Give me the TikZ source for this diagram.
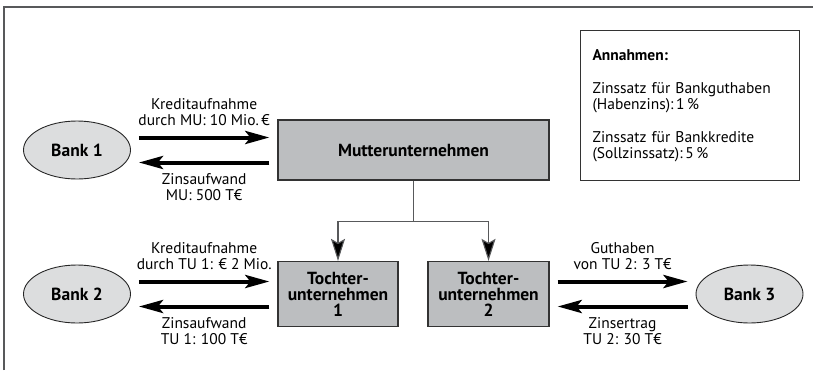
\documentclass[tikz,border=0pt]{standalone}
\usepackage{fontspec}
\setmainfont{PT Sans}
\usetikzlibrary{shapes.geometric,arrows.meta}
\definecolor{boxgray}{HTML}{BCBEC0}
\definecolor{bankgray}{HTML}{DCDDDE}
\definecolor{linegray}{HTML}{58595B}
\begin{document}
\begin{tikzpicture}[x=1pt,y=-1pt,font=\fontsize{15.5}{16}\selectfont,
    bank/.style={ellipse,draw=black!85,line width=0.9pt,fill=bankgray,minimum width=107pt,minimum height=58pt,inner sep=0pt,font=\fontsize{17.5}{16}\selectfont\bfseries},
    firm/.style={rectangle,draw=black!80,line width=1.3pt,fill=boxgray,align=center,inner sep=0pt,font=\fontsize{17.5}{16}\selectfont\bfseries},
    flow/.style={line width=4pt,-{Stealth[length=24pt,width=13pt,inset=5pt]},shorten <=8pt,shorten >=8pt},
    tree/.style={draw=linegray,line width=1.1pt,-{Stealth[length=22pt,width=14pt,inset=4pt,fill=black]}},
    lbl/.style={align=center,inner sep=0pt}]
    \useasboundingbox (0,0) rectangle (813,370);
    %%% frame
    \draw[linegray,line width=1.2pt] (4,370) -- (4,7) -- (813,7);
    %%% companies and banks
    \node[bank] (b1) at (77,150) {Bank 1};
    \node[bank] (b2) at (77,294) {Bank 2};
    \node[bank] (b3) at (749.5,294) {Bank 3};
    \node[firm,minimum width=271pt,minimum height=60pt] (mu) at (413.5,150) {Mutterunternehmen};
    \node[firm,minimum width=120pt,minimum height=65pt] (tu1) at (338,294) {Tochter-\\unternehmen\\1};
    \node[firm,minimum width=121pt,minimum height=65pt] (tu2) at (488.5,294) {Tochter-\\unternehmen\\2};
    \node[draw=black!80,line width=1.1pt,anchor=north west,minimum width=219pt,minimum height=150pt,
          text width=195pt,inner xsep=12pt,align=left] (annahmen) at (580,30)
          {\textbf{Annahmen:}\\[17pt]Zinssatz für Bankguthaben\\(Habenzins):\,1\,\%\\[17pt]Zinssatz für Bankkredite\\(Sollzinssatz):\,5\,\%};
    %%% group structure
    \draw[tree] (mu.south) -- ++(0,41) -| (tu1.north);
    \draw[tree] (mu.south) -- ++(0,41) -| (tu2.north);
    %%% money flows
    \draw[flow] ([yshift=12.5pt]b1.east) -- ([yshift=12.5pt]b1.east -| mu.west)
        node[lbl,pos=0.5,above=10pt] {Kreditaufnahme\\durch MU: 10 Mio.\,€};
    \draw[flow] ([yshift=-12.5pt]b1.east -| mu.west) -- ([yshift=-12.5pt]b1.east)
        node[lbl,pos=0.5,below=9pt] {Zinsaufwand\\MU: 500 T€};
    \draw[flow] ([yshift=12.5pt]b2.east) -- ([yshift=12.5pt]b2.east -| tu1.west)
        node[lbl,pos=0.5,above=10pt] {Kreditaufnahme\\durch TU 1: € 2 Mio.};
    \draw[flow] ([yshift=-12.5pt]b2.east -| tu1.west) -- ([yshift=-12.5pt]b2.east)
        node[lbl,pos=0.5,below=9pt] {Zinsaufwand\\TU 1: 100 T€};
    \draw[flow] ([yshift=12.5pt]b3.west -| tu2.east) -- ([yshift=12.5pt]b3.west)
        node[lbl,pos=0.5,above=10pt] {Guthaben\\von TU 2: 3 T€};
    \draw[flow] ([yshift=-12.5pt]b3.west) -- ([yshift=-12.5pt]b3.west -| tu2.east)
        node[lbl,pos=0.5,below=9pt] {Zinsertrag\\TU 2: 30 T€};
\end{tikzpicture}
\end{document}
